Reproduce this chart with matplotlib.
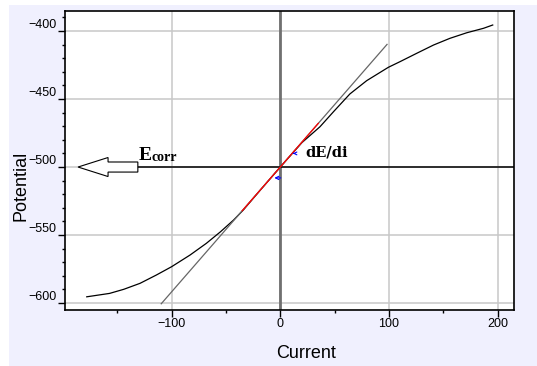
import matplotlib.pyplot as plt
from matplotlib.patches import Rectangle
from matplotlib.ticker import MultipleLocator

# polarization curve
current = [-178, -157, -144, -129, -114, -100, -83, -68, -55, -43, -34,
           -20, 0, 20, 36.5, 49, 64, 79.5, 99.4, 110, 125.5, 141, 156, 171.5, 187, 195.4]
potential = [-595.4, -592.9, -589.9, -585.5, -579.4, -573.3, -564.7, -556.1, -547.6, -539.0, -531.6,
             -518.5, -500, -482, -470.4, -459.3, -446.3, -436.5, -426.7, -422.6, -416.4, -410.3,
             -405.4, -401.3, -398.0, -395.6]

# tangent line dE/di through Ecorr
e_corr = -500
slope = 0.918
tan_x = [-109.5, 98.2]
red_x = [-35, 35]

xticks = [-100, 0, 100, 200]
yticks = [-600, -550, -500, -450, -400]

plt.rcParams['font.family'] = ['Liberation Sans', 'DejaVu Sans']

fig = plt.figure(figsize=(5.37, 3.66), dpi=100, facecolor='white')
fig.patches.append(Rectangle((9 / 537, 0), 1, 1 - 5 / 366, transform=fig.transFigure,
                             facecolor='#f0f0fe', edgecolor='none', zorder=-1))
ax = fig.add_axes([65 / 537, 56 / 366, 448.7 / 537, 299 / 366])
ax.set_facecolor('white')

ax.set_xlim(-198, 214.7)
ax.set_ylim(-605.1, -385.3)
ax.set_xticks(xticks)
ax.set_yticks(yticks)
ax.xaxis.set_minor_locator(MultipleLocator(50))
ax.yaxis.set_minor_locator(MultipleLocator(10))
ax.grid(True, which='major', color='#c8c8c8', lw=1.1)
ax.set_axisbelow(True)
ax.tick_params(which='major', length=5, width=1, labelsize=9, pad=1)
ax.tick_params(which='minor', length=2.5, width=1)
plt.setp(ax.get_yticklabels(), va='bottom')
for s in ax.spines.values():
    s.set_linewidth(1.2)

# axis lines through origin / Ecorr
ax.axvline(0, color='#707070', lw=2)
ax.plot([-131, 214.7], [e_corr, e_corr], color='black', lw=1.1)

# data curve, tangent and fitted region
ax.plot(current, potential, color='black', lw=0.9)
ax.plot(tan_x, [e_corr + slope * x for x in tan_x], color='#666666', lw=0.9)
ax.plot(red_x, [e_corr + slope * x for x in red_x], color='red', lw=0.9)

# little blue markers on the tangent
ax.annotate('', xy=(-8, -508), xytext=(3, -508),
            arrowprops=dict(arrowstyle='->', color='blue', lw=0.8, mutation_scale=6))
ax.annotate('', xy=(9, -490), xytext=(15, -490),
            arrowprops=dict(arrowstyle='->', color='blue', lw=0.8, mutation_scale=5))

# hollow arrow pointing to Ecorr
ax.arrow(-131, e_corr, -55, 0, width=7.4, head_width=14, head_length=27.6,
         length_includes_head=True, fc='white', ec='black', lw=0.8, zorder=3)

e_txt = ax.text(-130, -495, 'E', family='Liberation Serif', fontweight='bold', fontsize=14)
ax.annotate('corr', xy=(1, 0), xycoords=e_txt, va='bottom', ha='left',
            family='Liberation Serif', fontweight='bold', fontsize=10)
ax.text(22.7, -492.4, 'dE/di', family='DejaVu Serif', fontweight='bold', fontsize=10.5)

ax.set_xlabel('Current', fontsize=13)
ax.set_ylabel('Potential', fontsize=13)
ax.xaxis.set_label_coords(0.537, -0.147)
ax.yaxis.set_label_coords(-0.097, 0.415)
ax.xaxis.label.set_va('center')
ax.yaxis.label.set_va('center')

fig.savefig('out.png', dpi=100, facecolor=fig.get_facecolor())
